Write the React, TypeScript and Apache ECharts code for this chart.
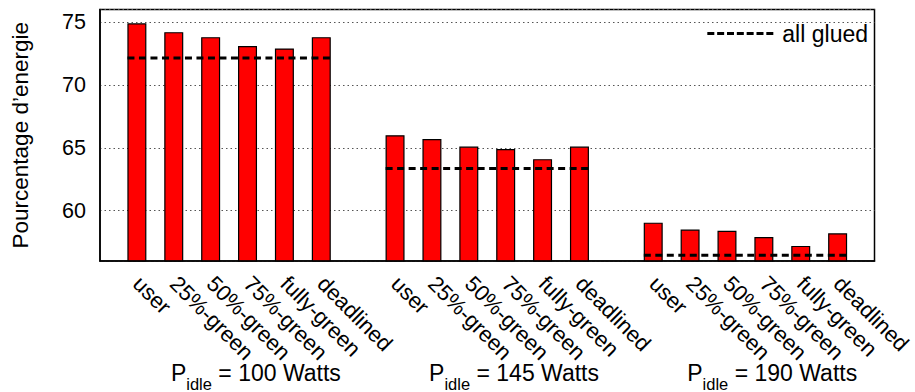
import React, { useEffect, useRef } from "react";
import * as echarts from "echarts";

// ---- data ----
const categories = ["user", "25%-green", "50%-green", "75%-green", "fully-green", "deadlined"];
const groupWatts = [100, 145, 190];
const values100 = [74.9, 74.2, 73.8, 73.1, 72.9, 73.8];
const values145 = [66.0, 65.7, 65.1, 64.9, 64.1, 65.1];
const values190 = [59.05, 58.5, 58.4, 57.9, 57.2, 58.2];
const allGlued = [72.15, 63.35, 56.45];
const yTicks = [60, 65, 70, 75];

const groupValues = [values100, values145, values190];
const SLOT = categories.length + 1; // bars per group + one empty slot
const X_MIN = -1;
const X_MAX = groupValues.length * SLOT - 1;

const W = 915;
const H = 392;
const GRID = { left: 100, top: 9.5, right: 34, bottom: 128 };
const BAR_W = 19;
const FONT = "'Liberation Sans', Arial, Helvetica, sans-serif";

// legend icon: 7 dashes, 66 x 3
const LEG_W = 66;
const LEG_H = 3;
const LEG_DASHES = 7;
const LEG_DASH = 7;
function dashPath() {
  const step = (LEG_W - LEG_DASH) / (LEG_DASHES - 1);
  let d = "path://";
  for (let k = 0; k < LEG_DASHES; k++) {
    const x0 = k * step;
    d += `M${x0.toFixed(2)} 0h${LEG_DASH}v${LEG_H}h-${LEG_DASH}z`;
  }
  return d;
}

export default function App() {
  const ref = useRef<HTMLDivElement>(null);

  useEffect(() => {
    if (!ref.current) return;
    const chart = echarts.init(ref.current, undefined, { renderer: "svg" });

    const plotW = W - GRID.left - GRID.right;
    const pxPerUnit = plotW / (X_MAX - X_MIN);
    const halfBar = BAR_W / 2 / pxPerUnit;
    const labelShift = 27 / pxPerUnit;

    const barData: number[][] = [];
    groupValues.forEach((vals, g) => {
      vals.forEach((v, i) => barData.push([g * SLOT + i, v]));
    });

    const groupCenters = groupValues.map(
      (_, g) => g * SLOT + (categories.length - 1) / 2 + labelShift
    );

    const gluedSeries = allGlued.map((v, g) => ({
      type: "line",
      name: "all glued",
      xAxisIndex: 0,
      symbol: "none",
      z: 4,
      lineStyle: { color: "#000", width: 3, type: [7, 4.5] },
      itemStyle: { color: "#000" },
      data: [
        [g * SLOT - halfBar, v],
        [g * SLOT + categories.length - 1 + halfBar, v],
      ],
    }));

    chart.setOption({
      animation: false,
      textStyle: { fontFamily: FONT, color: "#000" },
      grid: {
        ...GRID,
        show: true,
        borderColor: "#000",
        borderWidth: 1.5,
        backgroundColor: "transparent",
      },
      legend: {
        data: [{ name: "all glued", icon: dashPath(), itemStyle: { color: "#000" } }],
        right: 42,
        top: 17,
        itemWidth: LEG_W,
        itemHeight: LEG_H,
        textStyle: { fontSize: 23, fontFamily: FONT, color: "#000", padding: [0, 0, 0, 4] },
      },
      xAxis: [
        {
          type: "value",
          min: X_MIN,
          max: X_MAX,
          interval: 1,
          z: 5,
          axisLine: { show: true, onZero: false, lineStyle: { color: "#000", width: 1.5 } },
          axisTick: { show: false },
          splitLine: { show: false },
          axisLabel: {
            rotate: -45,
            margin: 19,
            fontSize: 22,
            color: "#000",
            fontFamily: FONT,
            showMinLabel: true,
            showMaxLabel: true,
            formatter: (v: number) => {
              if (v < 0 || !Number.isInteger(v)) return "";
              const i = v % SLOT;
              return i < categories.length ? categories[i] : "";
            },
          },
        },
        {
          type: "value",
          min: X_MIN,
          max: X_MAX,
          position: "bottom",
          offset: 100,
          axisLine: { show: false, onZero: false },
          axisTick: { show: false },
          splitLine: { show: false },
          axisLabel: {
            customValues: groupCenters,
            margin: 0,
            color: "#000",
            fontFamily: FONT,
            formatter: (v: number) => {
              const g = groupCenters.findIndex((c) => Math.abs(c - v) < 0.01);
              if (g < 0) return "";
              return `{p|P}{s|idle}{p| = ${groupWatts[g]} Watts}`;
            },
            rich: {
              p: { fontSize: 23, fontFamily: FONT, color: "#000", verticalAlign: "bottom", padding: [0, 0, 8, 0] },
              s: { fontSize: 16.5, fontFamily: FONT, color: "#000", verticalAlign: "bottom" },
            },
          },
        },
      ],
      yAxis: {
        type: "value",
        min: 56,
        max: 76,
        splitNumber: 4,
        name: "Pourcentage d\u2019energie",
        nameLocation: "middle",
        nameGap: 68,
        nameTextStyle: { fontSize: 22.5, fontFamily: FONT, color: "#000" },
        axisLine: { show: true, onZero: false, lineStyle: { color: "#000", width: 1.5 } },
        axisTick: { show: false },
        axisLabel: {
          fontSize: 21.5,
          margin: 14,
          color: "#000",
          fontFamily: FONT,
          formatter: (v: number) => (yTicks.includes(v) ? String(v) : ""),
        },
        splitLine: {
          show: true,
          lineStyle: { color: "#555", type: [1.5, 3], width: 1 },
        },
      },
      series: [
        {
          type: "bar",
          name: "bars",
          xAxisIndex: 0,
          barWidth: BAR_W,
          clip: true,
          itemStyle: { color: "#ff0000", borderColor: "#000", borderWidth: 1.2 },
          data: barData,
        },
        ...gluedSeries,
      ],
    });

    return () => chart.dispose();
  }, []);

  return (
    <div
      ref={ref}
      style={{ position: "fixed", left: 0, top: 0, width: W, height: H, background: "#fff" }}
    />
  );
}
